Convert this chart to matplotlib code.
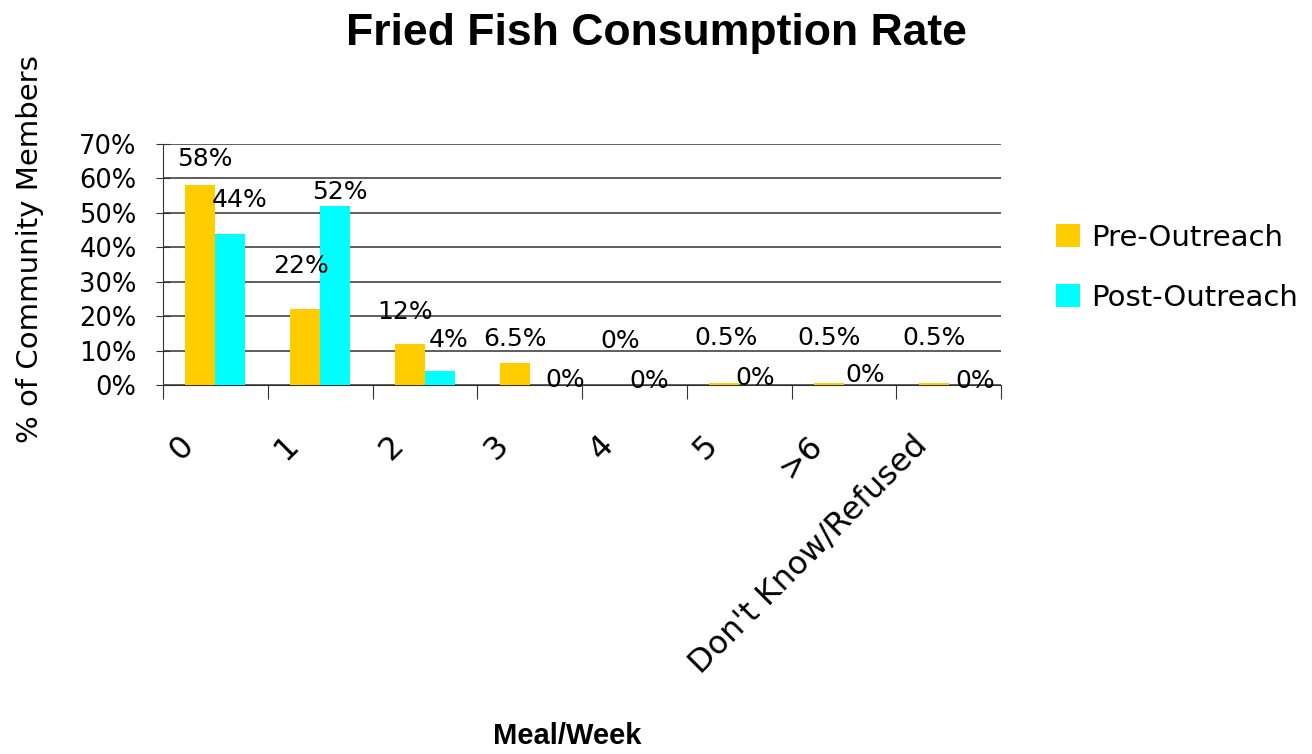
import matplotlib
matplotlib.use("Agg")
import matplotlib.pyplot as plt
import matplotlib.transforms as mtransforms
import numpy as np

categories = ["0", "1", "2", "3", "4", "5", ">6", "Don't Know/Refused"]
pre_outreach = [58, 22, 12, 6.5, 0, 0.5, 0.5, 0.5]
post_outreach = [44, 52, 4, 0, 0, 0, 0, 0]
y_ticks = [0, 10, 20, 30, 40, 50, 60, 70]

# where Excel put the data labels (x offset from category, y in %)
pre_lab_dx = [-0.10, -0.18, -0.19, -0.14, -0.14, -0.13, -0.14, -0.14]
pre_lab_y = [65.6, 34.6, 21.2, 13.4, 12.8, 13.7, 13.7, 13.7]
post_lab_dx = [0.23, 0.19, 0.23, 0.34, 0.14, 0.15, 0.20, 0.25]
post_lab_y = [53.7, 56.0, 13.0, 1.5, 1.2, 2.0, 2.9, 1.2]

gold = "#FFCC00"
cyan = "#00FFFF"

fig = plt.figure(figsize=(13.12, 7.54), dpi=100)
ax = fig.add_axes([0.1242, 0.4894, 0.6389, 0.3196])

x = np.arange(len(categories))
w = 0.286
ax.bar(x - w / 2, pre_outreach, w, color=gold, label="Pre-Outreach", zorder=3)
ax.bar(x + w / 2, post_outreach, w, color=cyan, label="Post-Outreach", zorder=3)

for i in range(len(categories)):
    ax.text(x[i] + pre_lab_dx[i], pre_lab_y[i], f"{pre_outreach[i]:g}%",
            ha="center", va="center", fontsize=18, zorder=4)
    ax.text(x[i] + post_lab_dx[i], post_lab_y[i], f"{post_outreach[i]:g}%",
            ha="center", va="center", fontsize=18, zorder=4)

ax.set_xlim(-0.5, len(categories) - 0.5)
ax.set_ylim(0, 70)
ax.set_yticks(y_ticks)
ax.set_yticklabels([f"{v}%" for v in y_ticks], fontsize=18.5)
ax.yaxis.grid(True, color="#333333", linewidth=1.1, zorder=0)

# category labels, rotated like Excel's (sit a bit left of the category centre)
ax.set_xticks(np.arange(-0.5, len(categories)))
ax.set_xticklabels([])
lab_trans = mtransforms.offset_copy(ax.get_xaxis_transform(), fig=fig, x=-37, y=-45, units="dots")
for i, c in enumerate(categories):
    ax.text(x[i], 0, c, transform=lab_trans, rotation=45, ha="right", va="top",
            rotation_mode="anchor", fontsize=23)
ax.tick_params(axis="x", length=10, direction="out", color="#333333")
ax.tick_params(axis="y", length=10, direction="inout", color="#333333", pad=14)

for s in ["top", "right"]:
    ax.spines[s].set_visible(False)
ax.spines["left"].set_color("#333333")
ax.spines["bottom"].set_color("#333333")

leg = fig.legend(loc="center left", bbox_to_anchor=(0.785, 0.645), frameon=False,
                 fontsize=21, handlelength=0.8, handleheight=0.8, handletextpad=0.4,
                 labelspacing=1.1)

fig.text(0.5, 0.956, "Fried Fish Consumption Rate", ha="center", va="center",
         fontsize=32, fontweight="bold", family="Liberation Sans")
fig.text(0.432, 0.024, "Meal/Week", ha="center", va="center",
         fontsize=21, fontweight="bold", family="Liberation Sans")
fig.text(0.023, 0.67, "% of Community Members", ha="center", va="center",
         rotation=90, fontsize=21)

fig.savefig("out.png", dpi=100)
